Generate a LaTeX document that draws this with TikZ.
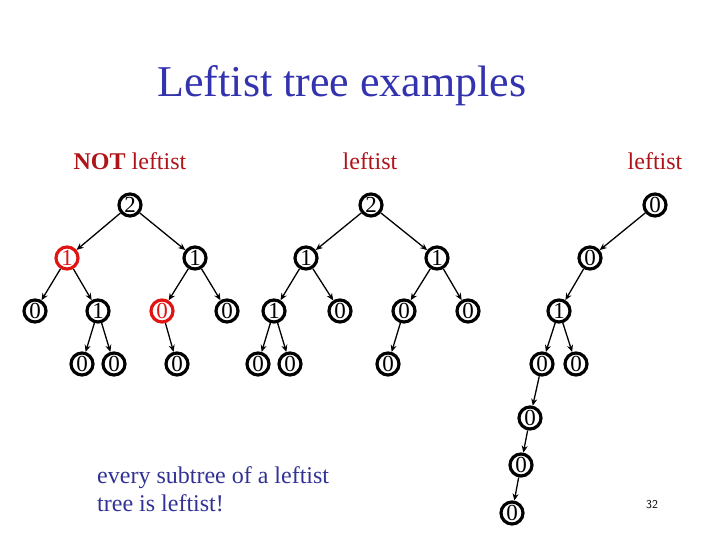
\documentclass[tikz,border=0pt]{standalone}
\usepackage{fontspec}
\setmainfont{Liberation Serif}
\usepackage{tikz}
\usepackage{xcolor}
\usetikzlibrary{arrows.meta}
\definecolor{titleblue}{RGB}{51,51,175}
\definecolor{labelred}{RGB}{175,20,25}
\definecolor{noteblue}{RGB}{50,50,150}
\definecolor{badred}{RGB}{225,20,20}
\tikzset{knot/.style={circle,draw=black,line width=3.2pt,inner sep=0pt,minimum size=22pt,
   font=\fontsize{23}{23}\selectfont},
 bad/.style={knot,draw=badred,text=badred},
 link/.style={draw,line width=1.3pt,-{Stealth[length=7pt,width=6pt]}},
 tag/.style={anchor=base,text=labelred,font=\fontsize{24}{28}\selectfont},
 }

\begin{document}
\begin{tikzpicture}[x=1pt,y=-1pt]
        \useasboundingbox (0,0) rectangle (720,540);
        \node[anchor=base,text=titleblue,font=\fontsize{44}{50}\selectfont] (title) at (342,97) {Leftist tree examples};
        \node[tag] (tag1) at (130,170) {\textbf{NOT} leftist};
        \node[tag] (tag2) at (370,170) {leftist};
        \node[tag] (tag3) at (655,170) {leftist};

        % first tree
        \node[knot] (a) at (130,205) {2};
        \node[bad] (ab) at (67,258) {1};
        \node[knot] (ac) at (195,258) {1};
        \node[knot] (abb) at (35,311) {0};
        \node[knot] (abc) at (98,311) {1};
        \node[bad] (acb) at (162,311) {0};
        \node[knot] (acc) at (227,311) {0};
        \node[knot] (abcb) at (82,364) {0};
        \node[knot] (abcc) at (114,364) {0};
        \node[knot] (acbb) at (177,364) {0};
        \foreach \p/\c in {a/ab, a/ac, ab/abb, ab/abc, ac/acb, ac/acc, abc/abcb, abc/abcc, acb/acbb} {
            \draw[link] (\p) -- (\c);
        }

        % second tree
        \node[knot] (b) at (371,205) {2};
        \node[knot] (bb) at (306,258) {1};
        \node[knot] (bc) at (437,258) {1};
        \node[knot] (bbb) at (274,311) {1};
        \node[knot] (bbc) at (340,311) {0};
        \node[knot] (bcb) at (404,311) {0};
        \node[knot] (bcc) at (468,311) {0};
        \node[knot] (bbbb) at (258,364) {0};
        \node[knot] (bbbc) at (290,364) {0};
        \node[knot] (bcbb) at (388,364) {0};
        \foreach \p/\c in {b/bb, b/bc, bb/bbb, bb/bbc, bc/bcb, bc/bcc, bbb/bbbb, bbb/bbbc, bcb/bcbb} {
            \draw[link] (\p) -- (\c);
        }

        % third tree
        \node[knot] (c) at (655,205) {0};
        \node[knot] (cb) at (590,258) {0};
        \node[knot] (cbb) at (559,311) {1};
        \node[knot] (cbbb) at (542,364) {0};
        \node[knot] (cbbc) at (576,364) {0};
        \node[knot] (cbbbb) at (530,418) {0};
        \node[knot] (cbbbbb) at (521,465) {0};
        \node[knot] (cbbbbbb) at (512,513) {0};
        \foreach \p/\c in {c/cb, cb/cbb, cbb/cbbb, cbb/cbbc, cbbb/cbbbb, cbbbb/cbbbbb, cbbbbb/cbbbbbb} {
            \draw[link] (\p) -- (\c);
        }

        \node[anchor=north west,inner sep=0pt,align=left,text=noteblue,font=\fontsize{24}{28}\selectfont] (note) at (97,466)
            {every subtree of a leftist\\tree is leftist!};
        \node[font=\sffamily\fontsize{12}{12}\selectfont] (page) at (652,505) {32};
    \end{tikzpicture}
\end{document}
